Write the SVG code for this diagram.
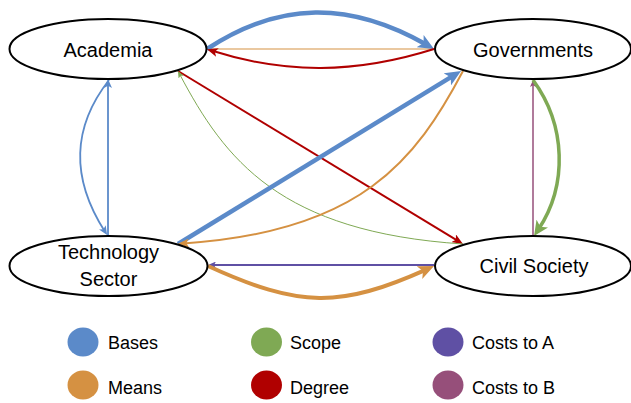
<svg xmlns="http://www.w3.org/2000/svg" width="631" height="403" viewBox="0 0 631 403">
<style>
.node ellipse{fill:#fff;stroke:#000;stroke-width:2}
.node text{font-family:"Liberation Sans",Arial,sans-serif;font-size:20px;fill:#000;text-anchor:middle}
.c{fill:none;stroke-linecap:butt}
.leg text{font-family:"Liberation Sans",Arial,sans-serif;font-size:18px;fill:#000}
</style>
<defs>
<marker id="ab-lg" markerUnits="userSpaceOnUse" markerWidth="16" markerHeight="14" viewBox="0 0 16 14" refX="8" refY="7" orient="auto"><path d="M0,0 L16,7 L0,14 L4,7 z" fill="#5B8AC9"/></marker>
<marker id="ab-sm" markerUnits="userSpaceOnUse" markerWidth="9" markerHeight="8" viewBox="0 0 9 8" refX="4.5" refY="4" orient="auto"><path d="M0,0 L9,4 L0,8 L2.2,4 z" fill="#5B8AC9"/></marker>
<marker id="ar" markerUnits="userSpaceOnUse" markerWidth="11" markerHeight="9" viewBox="0 0 11 9" refX="5.5" refY="4.5" orient="auto"><path d="M0,0 L11,4.5 L0,9 L2.7,4.5 z" fill="#B00000"/></marker>
<marker id="ag-lg" markerUnits="userSpaceOnUse" markerWidth="15" markerHeight="14" viewBox="0 0 15 14" refX="7.5" refY="7" orient="auto"><path d="M0,0 L15,7 L0,14 L3.7,7 z" fill="#7FA954"/></marker>
<marker id="ag-sm" markerUnits="userSpaceOnUse" markerWidth="7" markerHeight="6" viewBox="0 0 7 6" refX="3.5" refY="3" orient="auto"><path d="M0,0 L7,3 L0,6 L1.7,3 z" fill="#7FA954"/></marker>
<marker id="ao-lg" markerUnits="userSpaceOnUse" markerWidth="16" markerHeight="14" viewBox="0 0 16 14" refX="8" refY="7" orient="auto"><path d="M0,0 L16,7 L0,14 L4,7 z" fill="#D59142"/></marker>
<marker id="ao-sm" markerUnits="userSpaceOnUse" markerWidth="11" markerHeight="9" viewBox="0 0 11 9" refX="5.5" refY="4.5" orient="auto"><path d="M0,0 L11,4.5 L0,9 L2.7,4.5 z" fill="#D59142"/></marker>
<marker id="ap" markerUnits="userSpaceOnUse" markerWidth="8" markerHeight="7" viewBox="0 0 8 7" refX="4" refY="3.5" orient="auto"><path d="M0,0 L8,3.5 L0,7 L2,3.5 z" fill="#5F50A4"/></marker>
<marker id="am" markerUnits="userSpaceOnUse" markerWidth="7" markerHeight="6" viewBox="0 0 7 6" refX="3.5" refY="3" orient="auto"><path d="M0,0 L7,3 L0,6 L1.7,3 z" fill="#964F7A"/></marker>
</defs>
<g id="connectors">
<!-- Academia <-> Governments -->
<path class="c" d="M434,49 L207,49" stroke="#D59142" stroke-width="1.2"/>
<path class="c" d="M207,49 C280,1 350,1 427.1,45" stroke="#5B8AC9" stroke-width="4.5" marker-end="url(#ab-lg)"/>
<path class="c" d="M434,49 C355,74 285,74 212.2,50.8" stroke="#B00000" stroke-width="2" marker-end="url(#ar)"/>
<!-- Diagonals -->
<path class="c" d="M178,71 L458.3,241.1" stroke="#B00000" stroke-width="2" marker-end="url(#ar)"/>
<path class="c" d="M463,244 C280,232 225,160 179.6,74.1" stroke="#7FA954" stroke-width="1" marker-end="url(#ag-sm)"/>
<path class="c" d="M178,244 L454.2,75.2" stroke="#5B8AC9" stroke-width="4.5" marker-end="url(#ab-lg)"/>
<path class="c" d="M463,71 C416,160 361,232 183.5,243.4" stroke="#D59142" stroke-width="2" marker-end="url(#ao-sm)"/>
<!-- Academia <-> Technology -->
<path class="c" d="M108,236 L108,83.5" stroke="#5B8AC9" stroke-width="1.8" marker-end="url(#ab-sm)"/>
<path class="c" d="M109,80 C70,130 72,180 104.7,231.2" stroke="#5B8AC9" stroke-width="1.8" marker-end="url(#ab-sm)"/>
<!-- Governments <-> Civil Society -->
<path class="c" d="M533,236 L533,83.5" stroke="#964F7A" stroke-width="1.5" marker-end="url(#am)"/>
<path class="c" d="M533,80 C566,125 568,185 538.2,229.8" stroke="#7FA954" stroke-width="3.5" marker-end="url(#ag-lg)"/>
<!-- Technology <-> Civil Society -->
<path class="c" d="M434,265 L212,265" stroke="#5F50A4" stroke-width="2" marker-end="url(#ap)"/>
<path class="c" d="M208,266 C300,308 340,308 426.7,269.3" stroke="#D59142" stroke-width="4" marker-end="url(#ao-lg)"/>
</g>
<g id="academia" class="node"><ellipse cx="108" cy="49" rx="98.5" ry="30"/><text x="108" y="57">Academia</text></g>
<g id="governments" class="node"><ellipse cx="533" cy="49" rx="98" ry="30"/><text x="533" y="57">Governments</text></g>
<g id="technology-sector" class="node"><ellipse cx="108.5" cy="266" rx="99" ry="30"/><text x="108.5" y="259">Technology</text><text x="108.5" y="286">Sector</text></g>
<g id="civil-society" class="node"><ellipse cx="533" cy="266" rx="98" ry="30"/><text x="534" y="273">Civil Society</text></g>
<g id="legend" class="leg">
<ellipse cx="83" cy="342" rx="15.5" ry="14.5" fill="#5B8AC9"/><text x="108" y="349">Bases</text>
<ellipse cx="83" cy="385" rx="15.5" ry="14.5" fill="#D59142"/><text x="108" y="394">Means</text>
<ellipse cx="266.5" cy="342" rx="15.5" ry="14.5" fill="#7FA954"/><text x="290" y="349">Scope</text>
<ellipse cx="266.5" cy="385" rx="15.5" ry="14.5" fill="#B00000"/><text x="290" y="394">Degree</text>
<ellipse cx="448" cy="342" rx="15.5" ry="14.5" fill="#5F50A4"/><text x="472" y="349">Costs to A</text>
<ellipse cx="448" cy="385" rx="15.5" ry="14.5" fill="#964F7A"/><text x="472" y="394">Costs to B</text>
</g>
</svg>
